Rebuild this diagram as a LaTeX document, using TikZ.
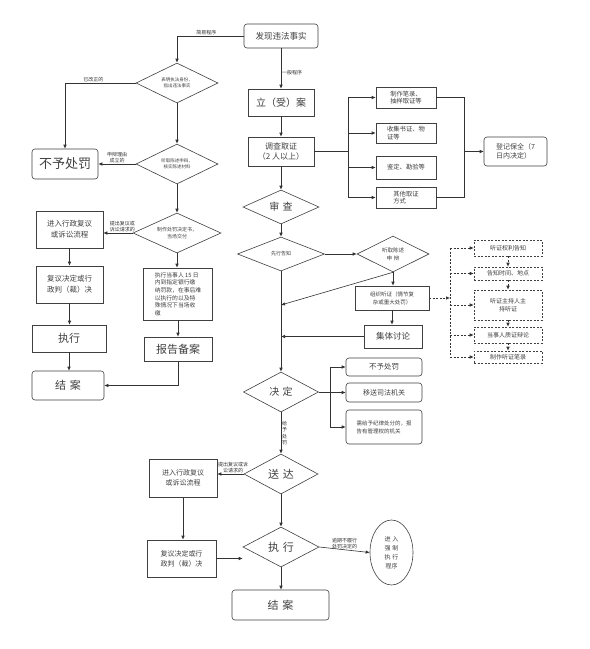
\documentclass[tikz,border=0pt]{standalone}
\usepackage{fontspec}
\setmainfont{Noto Sans CJK SC}
\usetikzlibrary{shapes.geometric,arrows.meta}
\tikzset{
  fs/.style args={#1/#2}{font=\fontsize{#1}{#2}\selectfont},
  box/.style={draw=black!75, line width=0.6pt, inner sep=1pt, align=center, text=black!75, minimum width=#1},
  box/.default=10pt,
  rbox/.style={box=#1, rounded corners=3pt},
  rbox/.default=10pt,
  dbox/.style={box=#1, dashed, dash pattern=on 2pt off 1.5pt},
  dbox/.default=10pt,
  dia/.style={draw=black!75, diamond, aspect=2, inner sep=0pt, align=center, line width=0.6pt, text=black!75},
  arr/.style={-{Latex[length=4pt,width=3.5pt]}, line width=0.6pt, draw=black!80},
  ln/.style={line width=0.6pt, draw=black!80},
  darr/.style={arr, dash pattern=on 2pt off 1.5pt},
  dln/.style={ln, dash pattern=on 2pt off 1.5pt},
  lab/.style={fs=5/6, align=center, inner sep=0.8pt, text=black!80},
}
\begin{document}
\begin{tikzpicture}[x=1pt,y=-1pt]
\useasboundingbox (0,0) rectangle (590,649);
\fill[white] (0,0) rectangle (590,649);

% ---------- top ----------
\node[rbox=74pt, minimum height=24pt, fs=8.5/10] (faxian) at (281,36) {发现违法事实};

% ---------- simple procedure (left) ----------
\node[dia, minimum width=82pt, minimum height=40pt, fs=4.5/6] (d1) at (177,83) {表明执法身份，\\指出违法事实};
\node[rbox=66pt, minimum height=30pt, fs=13/15] (bu1) at (65,164) {不予处罚};
\node[dia, minimum width=82pt, minimum height=40pt, fs=4.5/6] (d2) at (177,164) {听取陈述申辩，\\核实陈述材料};
\node[dia, minimum width=88pt, minimum height=40pt, fs=5/7] (d3) at (177,233) {制作处罚决定书，\\当场交付};
\node[box=67pt, minimum height=37pt, fs=7.5/11] (L1) at (69.5,229.5) {进入行政复议\\或诉讼流程};
\node[box=67pt, minimum height=37pt, fs=7.5/11] (L2) at (69.5,284.5) {复议决定或行\\政判（裁）决};
\node[box=74pt, minimum height=27pt, fs=11/13] (Lzx) at (69,338.5) {执行};
\node[rbox=72pt, minimum height=29pt, fs=11/13] (Ljie) at (68,385.5) {结\,\,案};
\node[box=69pt, minimum height=52pt, fs=5.8/7.6, align=left] (zx15) at (178,294) {执行当事人 15 日\\内到指定银行缴\\纳罚款，在事后难\\以执行的以及特\\殊情况下当场收\\缴};
\node[box=68pt, minimum height=24pt, fs=11/13] (baogao) at (178,349) {报告备案};

% ---------- general procedure ----------
\node[box=66pt, minimum height=27pt, fs=10/12] (lian) at (281,102.5) {立（受）案};
\node[box=66pt, minimum height=29pt, fs=8/10] (diaocha) at (281,151.5) {调查取证\\（2 人以上）};
\node[box=60pt, minimum height=21pt, fs=6.3/7.5, align=left] (r1) at (406,97.5) {制作笔录、\\抽样取证等};
\node[box=60pt, minimum height=20pt, fs=6.3/7.5, align=left] (r2) at (406,133) {收集书证、物\\证等};
\node[box=60pt, minimum height=23pt, fs=6.3/7.5] (r3) at (406,167.5) {鉴定、勘验等};
\node[box=60pt, minimum height=21pt, fs=6.3/7.5, align=left] (r4) at (406,197.5) {其他取证\\方式};
\node[rbox=63pt, minimum height=29pt, fs=7/9, align=left] (dengji) at (515.5,151.5) {登记保全（7\\日内决定）};

\node[dia, minimum width=76pt, minimum height=34pt, fs=10/12] (shencha) at (281,207) {审\,\,查};
\node[dia, minimum width=87pt, minimum height=34pt, fs=5/6] (xianxing) at (281,254) {先行告知};
\node[dia, minimum width=72pt, minimum height=36pt, fs=5.5/8] (tingqu) at (393,254) {听取陈述\\申\,\,辩};
\node[box=74pt, minimum height=24pt, fs=5.5/8] (tingzheng) at (392,298) {组织听证（情节复\\杂或重大处罚）};
\node[box=58pt, minimum height=23pt, fs=8.5/10] (jiti) at (393,336.5) {集体讨论};

% hearing sub-steps
\node[dbox=68pt, minimum height=16pt, fs=6/7] (t1) at (508,248) {听证权利告知};
\node[dbox=68pt, minimum height=13pt, fs=6/7] (t2) at (508,273.5) {告知时间、地点};
\node[dbox=68pt, minimum height=30pt, fs=6/8.5] (t3) at (508,305) {听证主持人主\\持听证};
\node[dbox=68pt, minimum height=16pt, fs=6/7] (t4) at (508,335) {当事人质证辩论};
\node[dbox=68pt, minimum height=12pt, fs=6/7] (t5) at (508,357) {制作听证笔录};

\node[dia, minimum width=75pt, minimum height=40pt, fs=10/12] (jueding) at (281,392) {决\,\,定};
\node[rbox=76pt, minimum height=18pt, fs=7.5/9] (bu2) at (384,367) {不予处罚};
\node[rbox=76pt, minimum height=19pt, fs=7/9] (yisong) at (384,392.5) {移送司法机关};
\node[rbox=76pt, minimum height=34pt, fs=5.5/8, align=left] (xugei) at (384,427) {需给予纪律处分的，报\\告有管理权的机关};

\node[dia, minimum width=74pt, minimum height=40pt, fs=11/13] (songda) at (281,474) {送\,\,达};
\node[box=68pt, minimum height=38pt, fs=7/10] (L3) at (183,478) {进入行政复议\\或诉讼流程};
\node[box=69pt, minimum height=37pt, fs=7/10] (L4) at (181.5,558.5) {复议决定或行\\政判（裁）决};
\node[dia, minimum width=76pt, minimum height=40pt, fs=11/13] (zhixing) at (281,547) {执\,\,行};
\node[draw=black!75, line width=0.6pt, ellipse, minimum width=43pt, minimum height=65pt, inner sep=0pt, align=center, fs=6/9, text=black!75] (qiangzhi) at (391.5,552.5) {进\,\,入\\强\,\,制\\执\,\,行\\程序};
\node[rbox=97pt, minimum height=30pt, fs=11/13] (jiean) at (280.5,605) {结\,\,案};

% ---------- connectors: simple procedure ----------
\draw[arr] (faxian.west) -| node[lab, above, pos=0.28] {简易程序} (d1.north);
\draw[arr] (d1.west) -| node[lab, above, pos=0.3] {已改正的} (bu1.north);
\draw[arr] (d1.south) -- (d2.north);
\draw[arr] (d2.west) -- node[lab, above] {申辩理由\\成立的} (bu1.east);
\draw[arr] (d2.south) -- (d3.north);
\draw[arr] (d3.west) -- node[lab, above, pos=0.35] {提出复议或\\诉讼请求的} (d3.west -| L1.east);
\draw[arr] (L1.south) -- (L2.north);
\draw[arr] (L2.south) -- (L2.south |- Lzx.north);
\draw[arr] (Lzx.south) -- (Lzx.south |- Ljie.north);
\draw[arr] (d3.south) -- (d3.south |- zx15.north);
\draw[arr] (zx15.south) -- (baogao.north);
\draw[arr] (baogao.south) |- (Ljie.east);

% ---------- connectors: general procedure ----------
\draw[arr] (faxian.south) -- node[lab, right, pos=0.6] {一般程序} (faxian.south |- lian.north);
\draw[arr] (lian.south) -- (diaocha.north);
\coordinate (bx) at (348,151.5);
\coordinate (by) at (464,151.5);
\draw[ln] (diaocha.east) -- (bx);
\draw[ln] (r1.west -| bx) -- (r4.west -| bx);
\foreach \r in {r1,r2,r3,r4} \draw[arr] (\r.west -| bx) -- (\r.west);
\draw[ln] (r1.east) -| (by);
\draw[ln] (r4.east) -| (by);
\draw[arr] (by) -- (dengji.west);

\draw[arr] (diaocha.south) -- (shencha.north);
\draw[arr] (shencha.south) -- (xianxing.north);
\draw[arr] (xianxing.east) -- (tingqu.west);
\draw[arr] (xianxing.south) -- (jueding.north);
\coordinate (jA) at (281,305);
\draw[arr] (tingqu.south) -- (jA);
\draw[arr] (tingqu.south) -- (tingqu.south |- tingzheng.north);
\draw[arr] (tingzheng.south) -- (tingzheng.south |- jiti.north);
\draw[arr] (jiti.west) -- (jiti.west -| xianxing.south);

% hearing dashed
\coordinate (tx) at (450,298);
\draw[darr] (tingzheng.east) -- (tx);
\draw[dln] (t1.west -| tx) -- (t5.west -| tx);
\foreach \t in {t1,t2,t3,t4,t5} \draw[darr] (\t.west -| tx) -- (\t.west);
\draw[darr] (t1.south) -- (t2.north);
\draw[darr] (t2.south) -- (t3.north);
\draw[darr] (t3.south) -- (t4.north);
\draw[darr] (t4.south) -- (t5.north);

% decision
\coordinate (jx) at (330,392);
\draw[ln] (jueding.east) -- (jx);
\draw[ln] (bu2.west -| jx) -- (xugei.west -| jx);
\foreach \b in {bu2,yisong,xugei} \draw[arr] (\b.west -| jx) -- (\b.west);
\draw[arr] (jueding.south) -- node[lab, right, fs=5/6.5] {给\\予\\处\\罚} (songda.north);
\draw[arr] (songda.west) -- node[lab, above, pos=0.4] {提出复议或诉\\讼请求的} (songda.west -| L3.east);
\draw[arr] (L3.south) -- (L3.south |- L4.north);
\draw[arr] (L4.east) -- (L4.east -| zhixing.west);
\draw[arr] (songda.south) -- (zhixing.north);
\draw[arr] (zhixing.east) -- node[lab, above] {逾期不履行\\处罚决定的} (qiangzhi.west);
\draw[arr] (zhixing.south) -- (zhixing.south |- jiean.north);
\end{tikzpicture}
\end{document}
